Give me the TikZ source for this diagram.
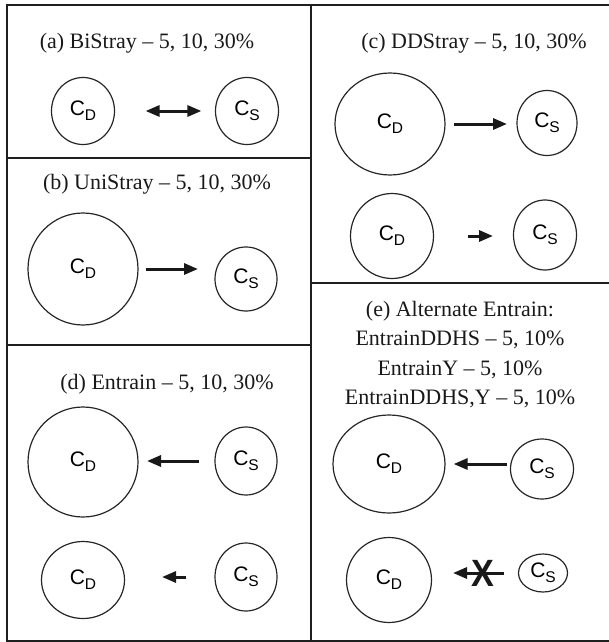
\documentclass[tikz,border=0pt]{standalone}
\usepackage{fontspec}
\setmainfont{Liberation Serif}
\newfontfamily\labfont{Liberation Sans}
\usetikzlibrary{shapes.geometric,arrows.meta}

% concentration label: C with a lowered subscript
\newcommand\conc[1]{{\labfont\fontsize{21}{21}\selectfont C\raisebox{-5pt}{\fontsize{15.5}{15.5}\selectfont #1}}}

\begin{document}
\begin{tikzpicture}[x=1pt,y=-1pt,
  frame/.style={line width=2pt, draw=black!88},
  title/.style={font=\fontsize{22}{29.5}\selectfont, text=black!90, align=center, inner sep=0pt},
  pool/.style n args={3}{draw=black!85, line width=1.2pt, ellipse, inner sep=0pt,
      minimum width=#1pt, minimum height=#2pt, label=center:{\conc{#3}}},
  arr/.style={line width=3pt, draw=black!90, -{Triangle[length=14pt,width=11pt]}},
  biarr/.style={line width=3pt, draw=black!90, {Triangle[length=14pt,width=11pt]}-{Triangle[length=14pt,width=11pt]}}
]
\useasboundingbox (0,0) rectangle (609,642);

% panel frames
\draw[frame] (609,5) -- (7,5) -- (7,641) -- (609,641);
\draw[frame] (311,5) -- (311,641);
\draw[frame] (7,158) -- (311,158);
\draw[frame] (7,345) -- (311,345);
\draw[frame] (311,283) -- (609,283);

% (a) BiStray
\node[title] (ta) at (147,43) {(a) BiStray -- 5, 10, 30\%};
\node[pool={63}{67}{D}] (cdA) at (83,111) {};
\node[pool={63}{67}{S}] (csA) at (247,111) {};
\draw[biarr, shorten <=30.5pt, shorten >=13.5pt] (cdA) -- (csA);

% (b) UniStray
\node[title] (tb) at (157,184) {(b) UniStray -- 5, 10, 30\%};
\node[pool={110}{112}{D}] (cdB) at (83,269) {};
\node[pool={62}{64}{S}] (csB) at (246,279) {};
\draw[arr, shorten <=7pt, shorten >=48pt] (cdB) -- (cdB -| csB);

% (c) DDStray
\node[title] (tc) at (474,43) {(c) DDStray -- 5, 10, 30\%};
\node[pool={110}{102}{D}] (cdC1) at (390,124) {};
\node[pool={60}{65}{S}] (csC1) at (547,123) {};
\draw[arr, shorten <=8pt, shorten >=40pt] (cdC1) -- (cdC1 -| csC1);
\node[pool={83}{85}{D}] (cdC2) at (392,236) {};
\node[pool={63}{70}{S}] (csC2) at (545,235) {};
\draw[arr, shorten <=33.5pt, shorten >=52pt] (cdC2) -- (cdC2 -| csC2);

% (d) Entrain
\node[title] (td) at (167,384) {(d) Entrain -- 5, 10, 30\%};
\node[pool={110}{110}{D}] (cdD1) at (83,462) {};
\node[pool={62}{68}{S}] (csD1) at (246,461) {};
\draw[arr, shorten <=15pt, shorten >=64pt] (csD1) -- (csD1 -| cdD1);
\node[pool={83}{77}{D}] (cdD2) at (83,580) {};
\node[pool={62}{68}{S}] (csD2) at (246,577) {};
\draw[arr, shorten <=28pt, shorten >=79pt] (csD2) -- (csD2 -| cdD2);

% (e) Alternate Entrain
\node[title] (te) at (460,354.5) {(e) Alternate Entrain:\\EntrainDDHS -- 5, 10\%\\EntrainY -- 5, 10\%\\EntrainDDHS,Y -- 5, 10\%};
\node[pool={112}{98}{D}] (cdE1) at (389,464) {};
\node[pool={63}{60}{S}] (csE1) at (542,469) {};
\draw[arr, shorten <=35pt, shorten >=8pt] (cdE1 -| csE1) -- (cdE1);
\node[pool={85}{85}{D}] (cdE2) at (389,580) {};
\node[pool={49}{38}{S}] (csE2) at (543,573) {};
\draw[arr, shorten <=13.5pt, shorten >=64pt] (csE2) -- (csE2 -| cdE2);
\node[font=\labfont\bfseries\fontsize{38}{38}\selectfont, text=black!90, inner sep=0pt, xscale=0.9] (blocked) at (483,573) {X};
\end{tikzpicture}
\end{document}
